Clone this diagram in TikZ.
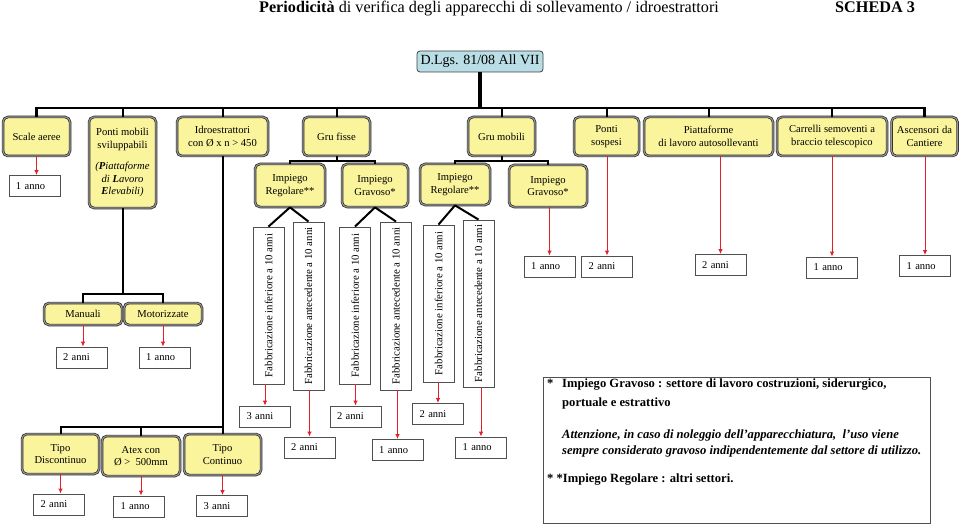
\documentclass[tikz,border=0pt]{standalone}
\usepackage{fontspec}
\setmainfont{Liberation Serif}
\usetikzlibrary{arrows.meta}
\definecolor{yel}{HTML}{FAF49C}
\definecolor{cyanbox}{HTML}{B9DEE6}
\definecolor{arr}{HTML}{E0202A}
\definecolor{bord}{HTML}{505050}
\begin{document}
\begin{tikzpicture}[x=1pt,y=-1pt,
  ybox/.style={rounded corners=5pt, fill=yel, draw=black!85, double=black!40, double distance=1.1pt, line width=0.7pt, align=center, inner sep=1pt, font=\fontsize{10.6}{12.5}\selectfont},
  rbox/.style={draw=bord, fill=white, line width=0.9pt, minimum height=21pt, inner xsep=7pt, inner ysep=0pt, text width=37pt, align=left, font=\fontsize{10.5}{12.5}\selectfont},
  fbox/.style={draw=bord, fill=white, line width=0.9pt, rotate=90, minimum height=31pt, inner sep=0pt, font=\fontsize{10.8}{12}\selectfont},
  conn/.style={line width=2pt, black},
  rarr/.style={draw=arr, line width=0.9pt, -{Latex[length=5pt,width=4.5pt]}},
  nt/.style={anchor=base west, inner sep=0pt, font=\fontsize{12.6}{14}\selectfont\bfseries},
]
\useasboundingbox (0,0) rectangle (959,524);
\fill[white] (0,0) rectangle (959,524);

% title
\node[anchor=base, inner sep=0pt, font=\fontsize{16.2}{18}\selectfont] (title) at (489,13) {\textbf{Periodicità} di verifica degli apparecchi di sollevamento / idroestrattori};
\node[anchor=base west, inner sep=0pt, font=\fontsize{16.2}{18}\selectfont\bfseries] (scheda) at (835,13) {SCHEDA 3};

% root
\node[rounded corners=3pt, fill=cyanbox, draw=black!75, line width=0.8pt, minimum width=126pt, minimum height=21pt, inner sep=0pt, font=\fontsize{14}{15}\selectfont] (dlgs) at (480,61.5) {D.Lgs. 81/08 All VII};
\coordinate (bus) at (481,108);

% top row
\node[ybox, minimum width=67pt, minimum height=39pt] (scale) at (36.5,136.5) {Scale aeree};
\node[ybox, minimum width=67pt, minimum height=91pt] (pmob) at (122.5,162.5) {Ponti mobili\\sviluppabili\\[9pt]\textit{(\textbf{P}iattaforme}\\\textit{di \textbf{L}avoro}\\\textit{\textbf{E}levabili)}};
\node[ybox, minimum width=91pt, minimum height=39pt] (idro) at (222.5,136.5) {Idroestrattori\\con Ø x n > 450};
\node[ybox, minimum width=67pt, minimum height=39pt] (gfis) at (336.5,136.5) {Gru fisse};
\node[ybox, minimum width=67pt, minimum height=39pt] (gmob) at (501.5,136.5) {Gru mobili};
\node[ybox, minimum width=65pt, minimum height=39pt] (psos) at (606.5,136.5) {Ponti\\sospesi};
\node[ybox, minimum width=129pt, minimum height=39pt] (piat) at (708.5,136.5) {Piattaforme\\di lavoro autosollevanti};
\node[ybox, minimum width=110pt, minimum height=39pt] (carr) at (832,136.5) {Carrelli semoventi a\\braccio telescopico};
\node[ybox, minimum width=66pt, minimum height=39pt] (asc) at (924.5,136.5) {Ascensori da\\Cantiere};

\draw[line width=4.5pt] (dlgs.south) -- (dlgs.south |- bus);
\draw[conn, line width=2.5pt] (scale.north) -- (scale.north |- bus) -- (asc.north |- bus) -- (asc.north);
\foreach \n in {pmob,idro,gfis,gmob,psos,piat,carr}
  \draw[conn] (\n.north) -- (\n.north |- bus);

% impiego
\node[ybox, minimum width=70pt, minimum height=43pt] (gfR) at (290,185.5) {Impiego\\Regolare**};
\node[ybox, minimum width=66pt, minimum height=43pt] (gfG) at (375,185.5) {Impiego\\Gravoso*};
\node[ybox, minimum width=70pt, minimum height=41pt] (gmR) at (455,184.5) {Impiego\\Regolare**};
\node[ybox, minimum width=78pt, minimum height=42pt] (gmG) at (548,186) {Impiego\\Gravoso*};
\draw[conn] (gfis.south) -- ++(0,5) -| (gfR.north);
\draw[conn] (gfis.south) -- ++(0,5) -| (gfG.north);
\draw[conn] (gmob.south) -- ++(0,5) -| (gmR.north);
\draw[conn] (gmob.south) -- ++(0,5) -| (gmG.north);

% fabbricazione
\node[fbox, minimum width=157pt] (f1) at (268.5,305.5) {Fabbricazione inferiore a 10 anni};
\node[fbox, minimum width=168pt] (f2) at (308.5,306) {Fabbricazione antecedente a 10 anni};
\node[fbox, minimum width=157pt] (f3) at (355,305.5) {Fabbricazione inferiore a 10 anni};
\node[fbox, minimum width=168pt] (f4) at (396,306) {Fabbricazione antecedente a 10 anni};
\node[fbox, minimum width=157pt] (f5) at (438.5,303.5) {Fabbricazione inferiore a 10 anni};
\node[fbox, minimum width=167pt] (f6) at (478.5,303.5) {Fabbricazione antecedente a 10 anni};
\draw[conn] (gfR.south) -- (f1.east);
\draw[conn] (gfR.south) -- (f2.east);
\draw[conn] (gfG.south) -- (f3.east);
\draw[conn] (gfG.south) -- (f4.east);
\draw[conn] (gmR.south) -- (f5.east);
\draw[conn] (gmR.south) -- (f6.east);

% results under fabbricazione
\node[rbox] (rf1) at (265,416.5) {3 anni};
\node[rbox] (rf2) at (309.5,447.5) {2 anni};
\node[rbox] (rf3) at (355.5,416.5) {2 anni};
\node[rbox] (rf4) at (397.5,450) {1 anno};
\node[rbox] (rf5) at (438,414) {2 anni};
\node[rbox] (rf6) at (481,447.5) {1 anno};
\foreach \i in {1,...,6}
  \draw[rarr] (rf\i.north |- f\i.west) -- (rf\i.north);

% scale aeree result
\node[rbox] (rs) at (34.5,186) {1 anno};
\draw[rarr] (scale.south) -- (scale.south |- rs.north);

% ponti mobili
\node[ybox, minimum width=78pt, minimum height=22pt] (man) at (83,314) {Manuali};
\node[ybox, minimum width=78pt, minimum height=22pt] (mot) at (163,314) {Motorizzate};
\draw[conn] (pmob.south) -- ++(0,86) -| (man.north);
\draw[conn] (pmob.south) -- ++(0,86) -| (mot.north);
\node[rbox] (rman) at (81.5,357.5) {2 anni};
\node[rbox] (rmot) at (164.5,357.5) {1 anno};
\draw[rarr] (man.south) -- (man.south |- rman.north);
\draw[rarr] (mot.south) -- (mot.south |- rmot.north);

% idroestrattori
\node[ybox, minimum width=77pt, minimum height=40pt] (disc) at (60.5,454) {Tipo\\Discontinuo};
\node[ybox, minimum width=78pt, minimum height=40pt] (atex) at (141,456) {Atex con\\Ø >\enspace 500mm};
\node[ybox, minimum width=77pt, minimum height=41pt] (cont) at (222.5,454.5) {Tipo\\Continuo};
\draw[conn] (idro.south) -- ++(0,271) -| (disc.north);
\draw[conn] (idro.south) -- ++(0,271) -| (atex.north);
\draw[conn] (idro.south) -- (cont.north);
\node[rbox] (rdisc) at (59,504.5) {2 anni};
\node[rbox] (ratex) at (139,506.5) {1 anno};
\node[rbox] (rcont) at (222,506) {3 anni};
\draw[rarr] (disc.south) -- (disc.south |- rdisc.north);
\draw[rarr] (atex.south) -- (atex.south |- ratex.north);
\draw[rarr] (cont.south) -- (cont.south |- rcont.north);

% right side results
\node[rbox] (rgm) at (549.5,266.5) {1 anno};
\node[rbox] (rps) at (607,266.5) {2 anni};
\node[rbox] (rpi) at (720.5,265) {2 anni};
\node[rbox] (rca) at (832,267.5) {1 anno};
\node[rbox] (ras) at (925,266) {1 anno};
\draw[rarr] (rgm.north |- gmG.south) -- (rgm.north);
\draw[rarr] (rps.north |- psos.south) -- (rps.north);
\draw[rarr] (rpi.north |- piat.south) -- (rpi.north);
\draw[rarr] (rca.north |- carr.south) -- (rca.north);
\draw[rarr] (ras.north |- asc.south) -- (ras.north);

% note
\node[draw=bord, line width=1pt, minimum width=387pt, minimum height=146pt, inner sep=0pt] (note) at (736.5,450) {};
\node[nt] (s1) at (547,387) {*};
\node[nt] (n1) at (562,387) {Impiego Gravoso : settore di lavoro costruzioni, siderurgico,};
\node[nt] (n2) at (562,406) {portuale e estrattivo};
\node[nt] (n3) at (562,438) {\itshape Attenzione, in caso di noleggio dell'apparecchiatura,\enspace l'uso viene};
\node[nt] (n4) at (562,454) {\itshape sempre considerato gravoso indipendentemente dal settore di utilizzo.};
\node[nt] (n5) at (547,482) {* *Impiego Regolare : altri settori.};
\end{tikzpicture}
\end{document}
